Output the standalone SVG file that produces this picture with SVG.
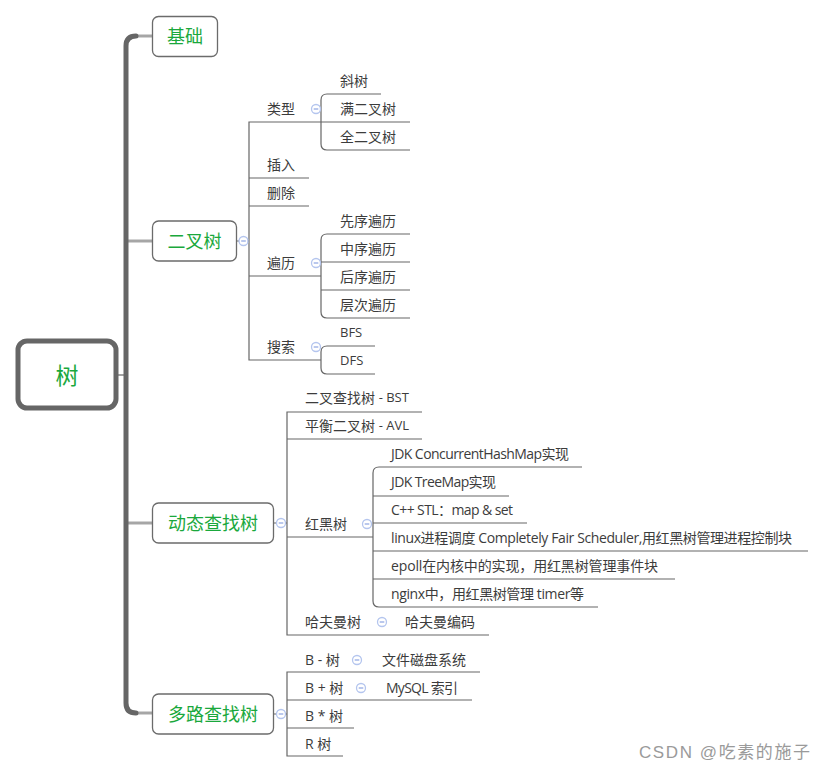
<svg xmlns="http://www.w3.org/2000/svg" width="825" height="772" viewBox="0 0 825 772">
<style>
.bg{fill:#fff}
.trunk{fill:none;stroke:#666;stroke-width:5;stroke-linecap:round}
.branch{fill:none;stroke:#a6a6a6;stroke-width:3}
.box{fill:#fff;stroke:#6b6b6b;stroke-width:1.3}
.root{fill:#fff;stroke:#666;stroke-width:5}
.ln{fill:none;stroke:#666;stroke-width:1.2}
.mk{fill:#fff;stroke:#b4c5ee;stroke-width:1.3}
.mkl{stroke:#95abe3;stroke-width:1.3}
.t{font-family:"Open Sans","Noto Sans CJK SC",sans-serif;font-size:14px;fill:#3c3c3c;dominant-baseline:central}
.s{font-size:13px}
.n{font-family:"Noto Sans CJK SC",sans-serif;font-size:18px;fill:#1aa83c;dominant-baseline:central;text-anchor:middle}
.wm{font-family:"Liberation Sans","Noto Sans CJK SC",sans-serif;font-size:17px;fill:#9a9a9a;dominant-baseline:central}
</style>
<defs>
<g id="marker"><circle class="mk" r="4.5"/><line class="mkl" x1="-2.3" y1="0" x2="2.3" y2="0"/></g>
</defs>
<rect class="bg" width="825" height="772"/>
<g id="connectors">
<line class="ln" x1="118" y1="375" x2="124" y2="375"/>
<line class="branch" x1="132" y1="36" x2="152" y2="36"/>
<line class="branch" x1="128" y1="241" x2="152" y2="241"/>
<line class="branch" x1="128" y1="523" x2="152" y2="523"/>
<line class="branch" x1="132" y1="713" x2="152" y2="713"/>
<path class="trunk" d="M136,36 Q126,36 126,46 V703 Q126,713 136,713"/>
<path class="ln" d="M236,241 H249 M274,523 H287 M274,714 H287"/>
<path class="ln" d="M410,122 H249 V360 H321 M249,178 H309 M249,206 H309 M249,276 H321"/>
<path class="ln" d="M381,94 H327 Q321,94 321,100 V144 Q321,150 327,150 H410"/>
<path class="ln" d="M410,234 H327 Q321,234 321,240 V312 Q321,318 327,318 H410 M321,262 H410 M321,290 H410"/>
<path class="ln" d="M375,346 H327 Q321,346 321,352 V368 Q321,374 327,374 H375"/>
<path class="ln" d="M422,412 H287 V635 H489 M287,439 H422 M287,537 H373"/>
<path class="ln" d="M582,467 H379 Q373,467 373,473 V601 Q373,607 379,607 H598 M373,496 H509 M373,523 H527 M373,551 H808 M373,579 H675"/>
<path class="ln" d="M480,672 H287 V756 H343 M287,700 H472 M287,728 H354"/>
</g>
<g id="root"><rect class="root" x="18" y="341" width="98" height="67" rx="9"/><text class="n" x="67" y="374" style="font-size:23px">树</text></g>
<g id="jichu"><rect class="box" x="152.5" y="16.5" width="65" height="40" rx="6"/><text class="n" x="185" y="35">基础</text></g>
<g id="ercha"><rect class="box" x="152.5" y="221" width="84" height="40" rx="6"/><text class="n" x="194.5" y="240">二叉树</text><use href="#marker" x="243.5" y="241"/></g>
<g id="dongtai"><rect class="box" x="152.5" y="503" width="121" height="40" rx="6"/><text class="n" x="213" y="522">动态查找树</text><use href="#marker" x="281" y="523"/></g>
<g id="duolu"><rect class="box" x="152.5" y="694" width="121" height="40" rx="6"/><text class="n" x="213" y="713">多路查找树</text><use href="#marker" x="281" y="714"/></g>
<g id="leixing"><text class="t" x="267" y="108">类型</text><use href="#marker" x="316" y="109"/></g>
<g id="xieshu"><text class="t" x="340" y="80">斜树</text></g>
<g id="man"><text class="t" x="340" y="108">满二叉树</text></g>
<g id="quan"><text class="t" x="340" y="136">全二叉树</text></g>
<g id="charu"><text class="t" x="267" y="164">插入</text></g>
<g id="shanchu"><text class="t" x="267" y="192">删除</text></g>
<g id="bianli"><text class="t" x="267" y="262">遍历</text><use href="#marker" x="316" y="263"/></g>
<g id="xianxu"><text class="t" x="340" y="220">先序遍历</text></g>
<g id="zhongxu"><text class="t" x="340" y="248">中序遍历</text></g>
<g id="houxu"><text class="t" x="340" y="276">后序遍历</text></g>
<g id="cengci"><text class="t" x="340" y="304">层次遍历</text></g>
<g id="sousuo"><text class="t" x="267" y="346">搜索</text><use href="#marker" x="316" y="347"/></g>
<g id="bfs"><text class="t s" x="340" y="332">BFS</text></g>
<g id="dfs"><text class="t s" x="340" y="360">DFS</text></g>
<g id="bst"><text class="t" x="305" y="397">二叉查找树 <tspan class="s">- BST</tspan></text></g>
<g id="avl"><text class="t" x="305" y="425">平衡二叉树 <tspan class="s">- AVL</tspan></text></g>
<g id="hongheishu"><text class="t" x="305" y="523">红黑树</text><use href="#marker" x="367" y="524"/></g>
<g id="rb1"><text class="t" x="391" y="453" textLength="178">JDK ConcurrentHashMap实现</text></g>
<g id="rb2"><text class="t" x="391" y="481" textLength="105">JDK TreeMap实现</text></g>
<g id="rb3"><text class="t" x="391" y="509" textLength="122">C++ STL：map &amp; set</text></g>
<g id="rb4"><text class="t" x="391" y="537" textLength="401">linux进程调度 Completely  Fair  Scheduler,用红黑树管理进程控制块</text></g>
<g id="rb5"><text class="t" x="391" y="565" textLength="267">epoll在内核中的实现，用红黑树管理事件块</text></g>
<g id="rb6"><text class="t" x="391" y="593" textLength="193">nginx中，用红黑树管理 timer等</text></g>
<g id="huffman"><text class="t" x="305" y="621">哈夫曼树</text><use href="#marker" x="382" y="622"/></g>
<g id="huffcode"><text class="t" x="405" y="621">哈夫曼编码</text></g>
<g id="bminus"><text class="t" x="305" y="659">B - 树</text><use href="#marker" x="357" y="660"/></g>
<g id="disk"><text class="t" x="382" y="659">文件磁盘系统</text></g>
<g id="bplus"><text class="t" x="305" y="687">B + 树</text><use href="#marker" x="361" y="688"/></g>
<g id="mysql"><text class="t" x="386" y="687" textLength="72">MySQL 索引</text></g>
<g id="bstar"><text class="t" x="305" y="715">B * 树</text></g>
<g id="rtree"><text class="t" x="305" y="743">R 树</text></g>
<text class="wm" x="639" y="752" textLength="171">CSDN @吃素的施子</text>
</svg>
